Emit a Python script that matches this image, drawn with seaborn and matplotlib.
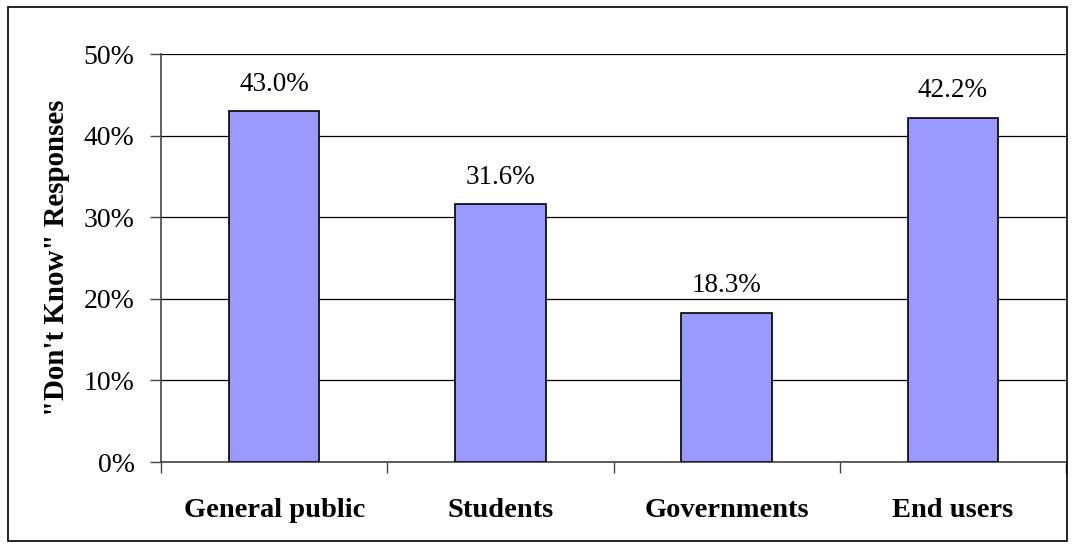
import matplotlib
matplotlib.use('Agg')
import matplotlib.pyplot as plt
import seaborn as sns
import pandas as pd
from matplotlib.patches import Rectangle
from matplotlib.ticker import FixedLocator

# data
groups = ['General public', 'Students', 'Governments', 'End users']
dont_know = [43.0, 31.6, 18.3, 42.2]
y_ticks = [0, 10, 20, 30, 40, 50]

df = pd.DataFrame({'group': groups, 'pct': dont_know})

sns.set_style('white')
plt.rcParams['font.family'] = ['Liberation Serif', 'DejaVu Serif']
plt.rcParams['text.color'] = 'black'
plt.rcParams['axes.labelcolor'] = 'black'
plt.rcParams['xtick.labelcolor'] = 'black'
plt.rcParams['ytick.labelcolor'] = 'black'

fig = plt.figure(figsize=(10.75, 5.48), dpi=100)
ax = fig.add_axes([161 / 1075, 1 - 462 / 548, 905 / 1075, 408 / 548])

# outer frame round the whole chart
fig.patches.append(Rectangle((8 / 1075, 7 / 548), 1059 / 1075, 534 / 548,
                             transform=fig.transFigure, fill=False,
                             edgecolor='black', linewidth=1.2, zorder=0))

sns.barplot(data=df, x='group', y='pct', color='#9999FF', saturation=1,
            width=0.4, edgecolor='black', linewidth=1.2, ax=ax, zorder=3)

ax.bar_label(ax.containers[0], fmt='%.1f%%', padding=10.5, fontsize=19.5, color='black')

ax.set_ylim(0, 50)
ax.set_xlim(-0.5, len(groups) - 0.5)
ax.set_yticks(y_ticks)
ax.set_yticklabels([f'{t}%' for t in y_ticks], fontsize=20)
ax.yaxis.grid(True, color='black', linewidth=0.9)
ax.set_axisbelow(True)

# ticks at the category boundaries, labels in the middle
ax.xaxis.set_major_locator(FixedLocator([i - 0.5 for i in range(len(groups) + 1)]))
ax.set_xticklabels([])
ax.xaxis.set_minor_locator(FixedLocator(range(len(groups))))
ax.set_xticklabels(groups, minor=True, fontsize=20.5, fontweight='bold')
ax.tick_params(axis='x', which='major', direction='out', length=8, width=1, color='#444444', bottom=True)
ax.tick_params(axis='x', which='minor', length=0, pad=26, labelcolor='black')
ax.tick_params(axis='y', direction='out', length=8, width=1, color='#444444', left=True, pad=11,
               labelcolor='black')

ax.set_xlabel('')
ax.set_ylabel('"Don\'t Know" Responses', fontsize=20.8, fontweight='bold', labelpad=10, color='black')

for side in ['top', 'right']:
    ax.spines[side].set_visible(False)
for side in ['left', 'bottom']:
    ax.spines[side].set_color('#444444')
    ax.spines[side].set_linewidth(1.2)

fig.savefig('out.png', dpi=100)
